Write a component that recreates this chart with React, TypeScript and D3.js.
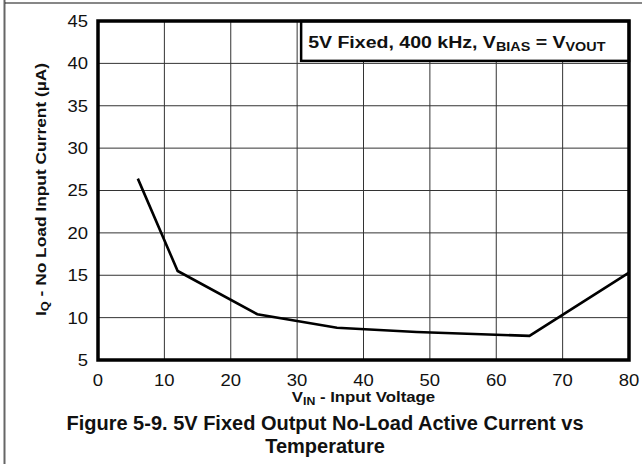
import React from "react";
import * as d3 from "d3";

// input voltage (V) vs no-load input current (uA)
const vin = [6, 12, 24, 36, 48, 65, 80];
const iq = [26.4, 15.5, 10.4, 8.8, 8.3, 7.85, 15.3];

const xTicks = [0, 10, 20, 30, 40, 50, 60, 70, 80];
const yTicks = [5, 10, 15, 20, 25, 30, 35, 40, 45];

const font = "'Liberation Sans', Arial, sans-serif";
const stretch = 1.12; // the source text is a bit wider than Liberation Sans

const App: React.FC = () => {
  const width = 642;
  const height = 464;
  const margin = { top: 21, right: 13, bottom: 104, left: 98 };
  const innerWidth = width - margin.left - margin.right;
  const innerHeight = height - margin.top - margin.bottom;

  const x = d3.scaleLinear().domain([0, 80]).range([0, innerWidth]);
  const y = d3.scaleLinear().domain([5, 45]).range([innerHeight, 0]);

  const line = d3
    .line<number>()
    .x((_, i) => x(vin[i]))
    .y((d) => y(d));

  return (
    <div style={{ position: "absolute", left: 0, top: 0 }}>
      <svg width={width} height={height} style={{ display: "block", background: "white" }}>
        {/* page frame */}
        <line x1={4.5} x2={4.5} y1={0} y2={height} stroke="#666" strokeWidth={2} />
        <line x1={5} x2={width} y1={3} y2={3} stroke="#111" strokeWidth={1.2} />

        <g transform={`translate(${margin.left}, ${margin.top})`}>
          {/* grid */}
          {xTicks.map((t) => (
            <line
              key={`gx-${t}`}
              x1={x(t)}
              x2={x(t)}
              y1={0}
              y2={innerHeight}
              stroke="#333"
              strokeWidth={1}
            />
          ))}
          {yTicks.map((t) => (
            <line
              key={`gy-${t}`}
              x1={0}
              x2={innerWidth}
              y1={y(t)}
              y2={y(t)}
              stroke="#333"
              strokeWidth={1}
            />
          ))}

          {/* legend box */}
          <rect
            x={x(30) + 4}
            y={0}
            width={innerWidth - x(30) - 4}
            height={y(40) - 2.5}
            fill="white"
            stroke="#000"
            strokeWidth={2.5}
          />
          <text
            transform={`translate(${x(30) + 11}, 27) scale(1.15, 1)`}
            fontFamily={font}
            fontWeight="bold"
            fontSize={17}
            fill="#111"
          >
            5V Fixed, 400 kHz, V
            <tspan fontSize={12.5} dy={3}>BIAS</tspan>
            <tspan dy={-3}> = V</tspan>
            <tspan fontSize={12.5} dy={3}>VOUT</tspan>
          </text>

          {/* data */}
          <path
            d={line(iq) ?? ""}
            fill="none"
            stroke="#000"
            strokeWidth={2.6}
            strokeLinejoin="miter"
          />

          {/* plot border */}
          <rect
            x={0}
            y={0}
            width={innerWidth}
            height={innerHeight}
            fill="none"
            stroke="#000"
            strokeWidth={3.5}
          />

          {/* tick labels */}
          {yTicks.map((t) => (
            <text
              key={`ty-${t}`}
              transform={`translate(-10, ${y(t)}) scale(${stretch}, 1)`}
              dy="0.36em"
              textAnchor="end"
              fontFamily={font}
              fontSize={16.5}
              fill="#111"
            >
              {t}
            </text>
          ))}
          {xTicks.map((t) => (
            <text
              key={`tx-${t}`}
              transform={`translate(${x(t)}, ${innerHeight + 26}) scale(${stretch}, 1)`}
              textAnchor="middle"
              fontFamily={font}
              fontSize={16.5}
              fill="#111"
            >
              {t}
            </text>
          ))}

          {/* axis titles */}
          <text
            transform={`translate(${innerWidth / 2}, ${innerHeight + 42}) scale(${stretch}, 1)`}
            textAnchor="middle"
            fontFamily={font}
            fontWeight="bold"
            fontSize={15}
            fill="#111"
          >
            V<tspan fontSize={11} dy={3}>IN</tspan>
            <tspan dy={-3}> - Input Voltage</tspan>
          </text>
          <text
            transform={`translate(${-52}, ${innerHeight / 2 - 1}) rotate(-90) scale(${stretch}, 1)`}
            textAnchor="middle"
            fontFamily={font}
            fontWeight="bold"
            fontSize={15.5}
            fill="#111"
          >
            I<tspan fontSize={11.5} dy={3}>Q</tspan>
            <tspan dy={-3}> - No Load Input Current (µA)</tspan>
          </text>
        </g>

        {/* caption */}
        <text
          x={325}
          y={430}
          textAnchor="middle"
          fontFamily={font}
          fontWeight="bold"
          fontSize={20}
          fill="#111"
        >
          Figure 5-9. 5V Fixed Output No-Load Active Current vs
        </text>
        <text
          x={325}
          y={453}
          textAnchor="middle"
          fontFamily={font}
          fontWeight="bold"
          fontSize={20}
          fill="#111"
        >
          Temperature
        </text>
      </svg>
    </div>
  );
};

export default App;
